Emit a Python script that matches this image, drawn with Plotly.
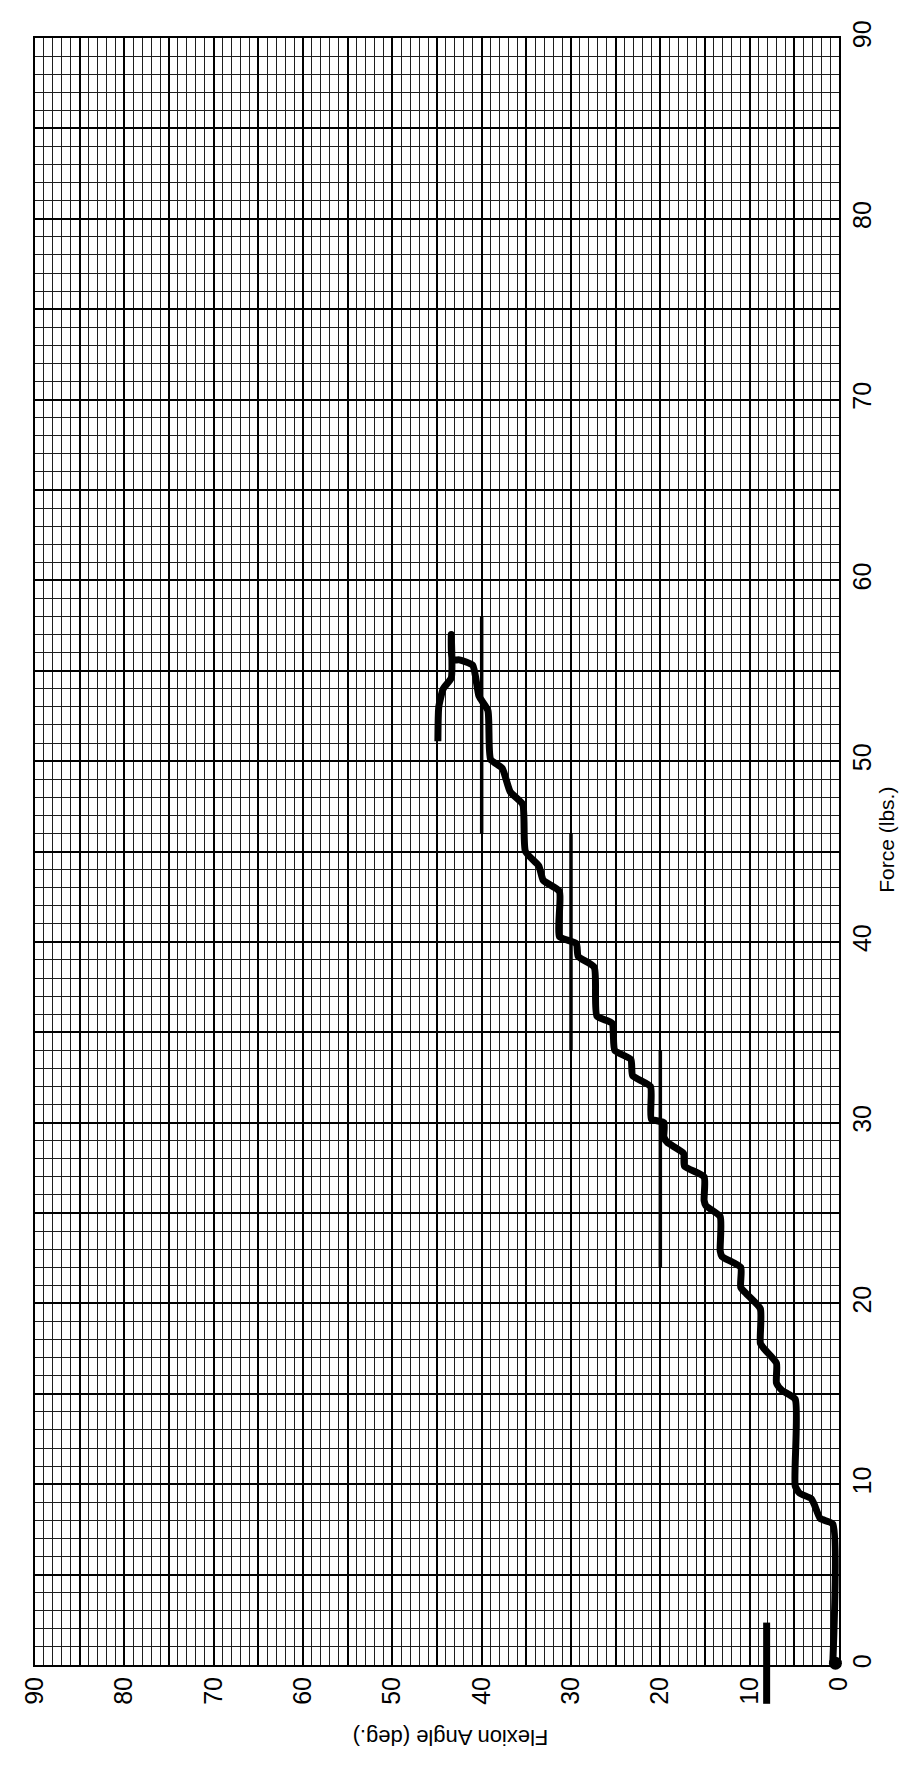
import plotly.graph_objects as go

# Curve: flexion angle (deg) vs force (lbs)
angle = [0.7, 0.7, 2.1, 2.7, 3.1, 4.4, 4.9, 4.9, 6.4, 7.0, 7.0, 8.4, 8.8, 8.8, 10.3, 11.0,
         11.0, 13.1, 13.3, 13.3, 14.9, 15.1, 15.1, 17.3, 17.4, 19.2, 19.6, 19.6, 21.0, 21.1,
         23.1, 23.3, 25.1, 25.4, 27.1, 27.4, 29.2, 29.4, 31.3, 31.3, 33.1, 33.6, 35.1, 35.4,
         36.8, 37.7, 39.0, 39.3, 40.3, 41.0, 42.5, 43.3, 43.4, 43.4, 44.3, 44.8, 44.9]
force = [0.0, 7.8, 8.1, 8.8, 9.2, 9.5, 9.9, 14.7, 15.2, 15.6, 16.7, 17.5, 17.8, 19.7, 20.5, 20.9,
         22.0, 22.6, 22.9, 24.8, 25.4, 25.7, 27.0, 27.6, 28.3, 28.9, 29.2, 30.0, 30.2, 32.0,
         32.6, 33.5, 34.0, 35.5, 35.9, 38.6, 39.2, 39.9, 40.3, 42.8, 43.4, 44.2, 45.0, 47.6,
         48.3, 49.6, 50.1, 52.8, 53.6, 55.3, 55.6, 55.6, 57.0, 54.6, 54.0, 53.0, 51.1]

# Range bars (constant angle, force span)
bar_angles = [20, 30, 40]
bar_force_low = [22, 34, 46]
bar_force_high = [34, 46, 58]

# Start point and short marker bar
start_angle = [0.4]
start_force = [0.1]
mark_angle = [8.1]
mark_force = [0.1]

tick_values = [0, 5, 10, 15, 20, 25, 30, 35, 40, 45, 50, 55, 60, 65, 70, 75, 80, 85, 90]
tick_labels = ["0", "", "10", "", "20", "", "30", "", "40", "", "50", "", "60", "", "70", "", "80", "", "90"]

FONT = "Liberation Sans, Arial, sans-serif"

fig = go.Figure()

fig.add_trace(go.Scatter(x=angle, y=force, mode="lines",
                         line=dict(color="black", width=7, shape="spline", smoothing=0.5),
                         showlegend=False, hoverinfo="skip"))

for a, lo, hi in zip(bar_angles, bar_force_low, bar_force_high):
    fig.add_trace(go.Scatter(x=[a, a], y=[lo, hi], mode="lines",
                             line=dict(color="black", width=3.5), showlegend=False, hoverinfo="skip"))

fig.add_trace(go.Scatter(x=start_angle, y=start_force, mode="markers", cliponaxis=False,
                         marker=dict(color="black", size=13, symbol="circle"),
                         showlegend=False, hoverinfo="skip"))
fig.add_trace(go.Scatter(x=mark_angle, y=mark_force, mode="markers", cliponaxis=False,
                         marker=dict(color="black", size=58, symbol="line-ns",
                                     line=dict(color="black", width=7)),
                         showlegend=False, hoverinfo="skip"))

axis_common = dict(
    tickmode="array", tickvals=tick_values, ticktext=tick_labels,
    tickangle=-90, ticks="", showgrid=True, gridcolor="black", gridwidth=1.5,
    minor=dict(dtick=1, tick0=0, showgrid=True, gridcolor="#1e1e1e", gridwidth=1),
    zeroline=False, showline=True, linecolor="black", linewidth=2, mirror=True,
    tickfont=dict(family=FONT, size=25, color="black"),
)

fig.update_layout(
    width=914, height=1775,
    margin=dict(l=21, r=83, t=24, b=118),
    paper_bgcolor="white", plot_bgcolor="white",
    xaxis=dict(range=[90, 0], side="bottom", **axis_common),
    yaxis=dict(range=[0, 90], side="right", **axis_common),
    annotations=[
        dict(text="Force (lbs.)", xref="paper", yref="paper", x=1.058, y=0.507,
             textangle=-90, showarrow=False, xanchor="center", yanchor="middle",
             font=dict(family=FONT, size=21, color="black")),
        dict(text="Flexion Angle (deg.)", xref="paper", yref="paper", x=0.517, y=-0.045,
             textangle=180, showarrow=False, xanchor="center", yanchor="middle",
             font=dict(family=FONT, size=22, color="black")),
    ],
)

fig.write_html("out.html")
